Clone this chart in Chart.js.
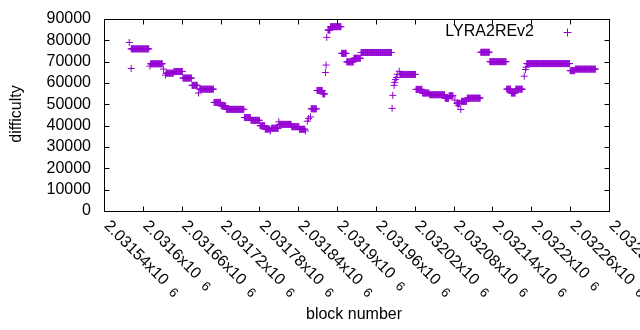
<!DOCTYPE html>
<html>
<head>
<meta charset="utf-8">
<script src="https://cdn.jsdelivr.net/npm/chart.js@4.4.0/dist/chart.umd.min.js"></script>
<style>
  html, body { margin: 0; background: #fff; }
</style>
</head>
<body>
<canvas id="chart" width="640" height="330"></canvas>
<script>
const FONT = "'Liberation Sans', Arial, sans-serif";
const PURPLE = '#9400D3';

// runs of blocks that sit on the same difficulty (solid bars in the plot)
const runFirst = [2031582, 2031612, 2031636, 2031648, 2031662, 2031676, 2031688, 2031710, 2031721, 2031729,
  2031757, 2031767, 2031781, 2031789, 2031799, 2031811, 2031830, 2031842, 2031860, 2031869,
  2031878, 2031886, 2031890, 2031907, 2031915, 2031926, 2031937, 2031997, 2032022, 2032032,
  2032043, 2032067, 2032073, 2032085, 2032092, 2032101, 2032122, 2032136, 2032162, 2032169,
  2032176, 2032193, 2032260, 2032268];
const runLast = [2031609, 2031630, 2031647, 2031661, 2031675, 2031684, 2031709, 2031720, 2031728, 2031756,
  2031766, 2031780, 2031788, 2031796, 2031809, 2031829, 2031841, 2031850, 2031868, 2031877,
  2031881, 2031889, 2031906, 2031914, 2031925, 2031936, 2031984, 2032021, 2032031, 2032042,
  2032066, 2032072, 2032079, 2032089, 2032100, 2032121, 2032135, 2032161, 2032168, 2032175,
  2032186, 2032259, 2032267, 2032299];
const runDifficulty = [76000, 69000, 64600, 65400, 62300, 58900, 57100, 50900, 49300, 47650,
  43800, 42500, 40000, 38400, 38800, 40600, 39500, 38300, 47900, 56500,
  54900, 84800, 86400, 73900, 69900, 71600, 74300, 64000, 57000, 55300,
  54500, 52800, 54000, 50500, 51400, 52900, 74400, 70000, 57100, 55300,
  57100, 69100, 65800, 66500];

// scattered single blocks
const singleBlock = [2031579, 2031582, 2031611, 2031632, 2031635, 2031686, 2031797, 2031810, 2031851, 2031854,
  2031856, 2031859, 2031882, 2031883, 2031884, 2031985, 2031986, 2031988, 2031989, 2031990,
  2031992, 2031993, 2031996, 2032082, 2032087, 2032091, 2032189, 2032191, 2032192];
const singleDifficulty = [79000, 66800, 67900, 66500, 63700, 55300, 37500, 41800, 37500, 42100,
  43400, 44100, 64900, 68400, 81400, 48100, 54200, 58900, 60300, 61600,
  62600, 64100, 65500, 52000, 49600, 47600, 63200, 66300, 67400];

const xTicks = [2031540, 2031600, 2031660, 2031720, 2031780, 2031840, 2031900,
  2031960, 2032020, 2032080, 2032140, 2032200, 2032260, 2032320];
const xTickLabels = ['2.03154', '2.0316', '2.03166', '2.03172', '2.03178', '2.03184', '2.0319',
  '2.03196', '2.03202', '2.03208', '2.03214', '2.0322', '2.03226', '2.03232'];
const yTicks = [0, 10000, 20000, 30000, 40000, 50000, 60000, 70000, 80000, 90000];

const points = [];
runFirst.forEach((first, i) => {
  for (let b = first; b <= runLast[i]; b++) points.push({ x: b, y: runDifficulty[i] });
});
singleBlock.forEach((b, i) => points.push({ x: b, y: singleDifficulty[i] }));

// gnuplot-like frame, ticks, labels and key
const frame = {
  id: 'frame',
  afterDraw(chart) {
    const { ctx, chartArea: a, scales: { x, y } } = chart;
    const L = Math.round(a.left) + 0.5, R = Math.round(a.right) + 0.5;
    const T = Math.round(a.top) + 0.5, B = Math.round(a.bottom) + 0.5;
    const tick = 5;
    ctx.save();
    ctx.strokeStyle = '#000';
    ctx.lineWidth = 1;
    ctx.beginPath();
    yTicks.forEach(v => {
      const py = Math.round(y.getPixelForValue(v)) + 0.5;
      ctx.moveTo(L, py); ctx.lineTo(L + tick, py);
      ctx.moveTo(R, py); ctx.lineTo(R - tick, py);
    });
    xTicks.forEach(v => {
      const px = Math.round(x.getPixelForValue(v)) + 0.5;
      ctx.moveTo(px, B); ctx.lineTo(px, B - tick);
      ctx.moveTo(px, T); ctx.lineTo(px, T + tick);
    });
    ctx.stroke();
    ctx.strokeRect(L, T, R - L, B - T);

    ctx.fillStyle = '#000';
    ctx.font = '16px ' + FONT;
    ctx.textAlign = 'right';
    ctx.textBaseline = 'middle';
    yTicks.forEach(v => ctx.fillText(String(v), 91, y.getPixelForValue(v)));

    xTicks.forEach((v, i) => {
      ctx.save();
      ctx.translate(x.getPixelForValue(v) + 2.5, 223.5);
      ctx.rotate(Math.PI / 4);
      ctx.font = '16px ' + FONT;
      ctx.textAlign = 'left';
      const s = xTickLabels[i] + 'x10';
      ctx.fillText(s, 0, 0);
      const w = ctx.measureText(s).width;
      ctx.font = '13px ' + FONT;
      ctx.fillText('6', w + 9, 2);
      ctx.restore();
    });

    ctx.font = '16px ' + FONT;
    ctx.textAlign = 'center';
    ctx.fillText('block number', 354, 315);
    ctx.save();
    ctx.translate(17, 114);
    ctx.rotate(-Math.PI / 2);
    ctx.fillText('difficulty', 0, 0);
    ctx.restore();

    ctx.textAlign = 'right';
    ctx.fillText('LYRA2REv2', 534, 32);
    ctx.strokeStyle = PURPLE;
    ctx.beginPath();
    ctx.moveTo(563.5, 32.5); ctx.lineTo(571.5, 32.5);
    ctx.moveTo(567.5, 28.5); ctx.lineTo(567.5, 36.5);
    ctx.stroke();
    ctx.restore();
  }
};

new Chart(document.getElementById('chart').getContext('2d'), {
  type: 'scatter',
  data: {
    datasets: [{
      label: 'LYRA2REv2',
      data: points,
      pointStyle: 'cross',
      pointRadius: 3.5,
      pointBorderWidth: 1,
      borderColor: PURPLE,
      backgroundColor: PURPLE,
    }],
  },
  options: {
    responsive: false,
    animation: false,
    events: [],
    layout: { padding: { left: 104, right: 31, top: 19, bottom: 119 } },
    plugins: { legend: { display: false }, tooltip: { enabled: false } },
    scales: {
      x: { type: 'linear', min: 2031540, max: 2032320, display: false },
      y: { type: 'linear', min: 0, max: 90000, display: false },
    },
  },
  plugins: [frame],
});
</script>
</body>
</html>
